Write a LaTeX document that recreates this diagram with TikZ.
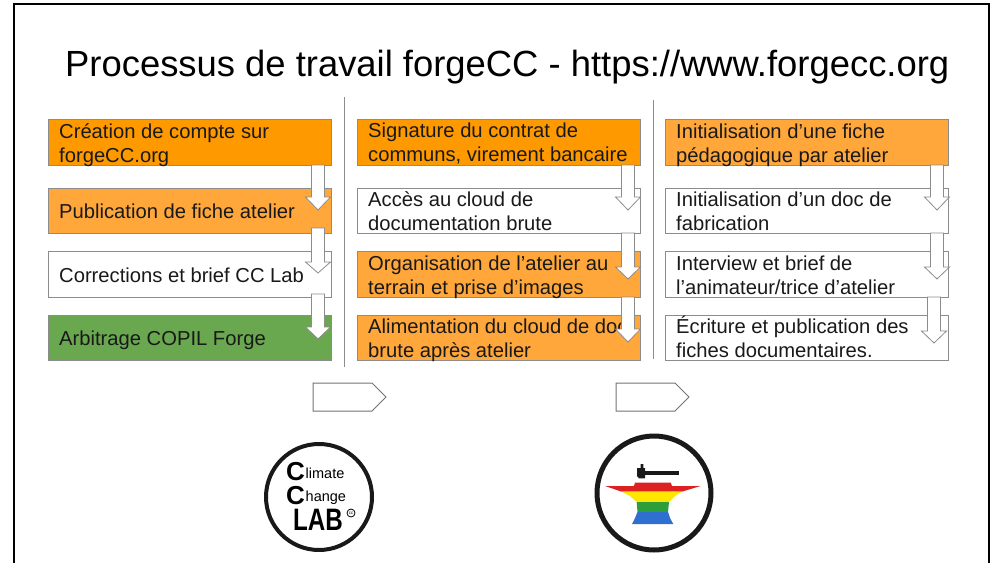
\documentclass[tikz,border=0pt]{standalone}
\usepackage{fontspec}
\setmainfont{Liberation Sans}
\definecolor{orangeA}{HTML}{FF9900}
\definecolor{orangeB}{HTML}{FFA73B}
\definecolor{greenA}{HTML}{6AA84F}
\definecolor{edgeA}{HTML}{8C8C8C}
\definecolor{anvilred}{HTML}{DD2020}
\definecolor{anvilyellow}{HTML}{FFE600}
\definecolor{anvilgreen}{HTML}{2E9E3A}
\definecolor{anvilblue}{HTML}{2F6FD0}
\tikzset{
  stepbox/.style={draw=edgeA, line width=1pt, minimum width=283pt, minimum height=45.5pt,
    inner sep=0pt, outer sep=0pt, anchor=north west},
  steptext/.style={anchor=north west, align=left, inner sep=0pt, text=black!90,
    font=\fontsize{20.2}{24}\selectfont},
  blockarrow/.style={draw=edgeA, line width=.8pt, fill=white},
  nextarrow/.style={draw=black!55, line width=1pt, fill=white},
  logoring/.style={draw=black!90, fill=none},
  logotext/.style={inner sep=0pt, anchor=base west}
}
% one block arrow: x of the tip, y of the top, y of the wings, y of the tip
\newcommand{\downarrowblock}[4]{%
  \draw[blockarrow] (#1-6.5,#2) -- (#1+6.5,#2) -- (#1+6.5,#3) -- (#1+12.5,#3) -- (#1,#4)
    -- (#1-12.5,#3) -- (#1-6.5,#3) -- cycle;}
% one pentagon between the columns
\newcommand{\nextblock}[1]{%
  \draw[nextarrow] (#1,383) -- (#1+59,383) -- (#1+73,397) -- (#1+59,411) -- (#1,411) -- cycle;}
\begin{document}
\begin{tikzpicture}[x=1pt,y=-1pt]
\useasboundingbox (0,0) rectangle (994,563);

% Frame
\draw[line width=2.5pt] (14,563) -- (14,4) -- (989,4) -- (989,563);

% Title
\node[anchor=base west, inner sep=0pt, font=\fontsize{36.4}{40}\selectfont] (title) at (65,76)
  {Processus de travail forgeCC - https://www.forgecc.org};

% Dividers
\draw[edgeA, line width=1pt] (344.5,97) -- (344.5,367);
\draw[edgeA, line width=1pt] (653,100) -- (653,359);

% Column 1
\node[stepbox, fill=orangeA] (boxa) at (48,119.5) {};
\node[stepbox, fill=orangeB] (boxb) at (48,188) {};
\node[stepbox, fill=white] (boxc) at (48,251.5) {};
\node[stepbox, fill=greenA] (boxd) at (48,315) {};
\node[steptext] (texta) at (59,123) {Création de compte sur\\forgeCC.org};
\node[steptext] (textb) at (59,204) {Publication de fiche atelier};
\node[steptext] (textc) at (59,267.5) {Corrections et brief CC Lab};
\node[steptext] (textd) at (59,331) {Arbitrage COPIL Forge};
\downarrowblock{318}{165}{197}{210}
\downarrowblock{318}{228}{262}{273}
\downarrowblock{318}{294}{327}{339}

% Column 2
\node[stepbox, fill=orangeA] (boxe) at (357,119.5) {};
\node[stepbox, fill=white] (boxf) at (357,188) {};
\node[stepbox, fill=orangeB] (boxg) at (357,251.5) {};
\node[stepbox, fill=orangeB] (boxh) at (357,315) {};
\node[steptext] (texte) at (368,123) {Signature du contrat de\\communs, virement bancaire};
\node[steptext] (textf) at (368,191) {Accès au cloud de\\documentation brute};
\node[steptext] (textg) at (368,255.5) {Organisation de l’atelier au\\terrain et prise d’images};
\node[steptext] (texth) at (368,319) {Alimentation du cloud de doc\\brute après atelier};
\downarrowblock{628}{165}{197}{210}
\downarrowblock{628}{233}{267}{279}
\downarrowblock{628}{297}{329}{342}

% Column 3
\node[stepbox, fill=orangeB] (boxi) at (665,119.5) {};
\node[stepbox, fill=white] (boxj) at (665,188) {};
\node[stepbox, fill=white] (boxk) at (665,251.5) {};
\node[stepbox, fill=white] (boxl) at (665,315) {};
\node[steptext] (texti) at (676,124) {Initialisation d’une fiche\\pédagogique par atelier};
\node[steptext] (textj) at (676,192) {Initialisation d’un doc de\\fabrication};
\node[steptext] (textk) at (676,255.5) {Interview et brief de\\l’animateur/trice d’atelier};
\node[steptext] (textl) at (676,316) {Écriture et publication des\\fiches documentaires.};
\downarrowblock{937}{165}{197}{210}
\downarrowblock{937}{233}{267}{279}
\downarrowblock{934}{297}{331}{343}

% Arrows between the logos
\nextblock{313}
\nextblock{616}

% Logo CC Lab
\draw[logoring, line width=4pt] (319,497) circle (53);
\node[logotext, font=\bfseries\fontsize{26}{26}\selectfont] (clima) at (286,480.5) {C};
\node[logotext, font=\fontsize{14.5}{14.5}\selectfont] (climb) at (305.5,478) {limate};
\node[logotext, font=\bfseries\fontsize{26}{26}\selectfont] (chana) at (286,504) {C};
\node[logotext, font=\fontsize{14.5}{14.5}\selectfont] (chanb) at (305.5,501) {hange};
\node[logotext, xscale=.78, font=\fontsize{31}{31}\selectfont\bfseries] (lab) at (293,530) {LAB};
\node[draw, circle, line width=.8pt, inner sep=0pt, minimum size=8pt, font=\fontsize{4.5}{5}\selectfont] (cclogo) at (351,513) {cc};

% Logo forge
\draw[logoring, line width=5pt] (654,493) circle (57);
\fill[black!90] (645,470.7) -- (679,470.7) -- (679,475.3) -- (645,475.3) -- cycle;
\fill[black!90] (637,468) -- (640.5,468) -- (640.7,464) -- (643.3,464) -- (643.5,468) -- (645,468)
  -- (645,478.3) -- (639,478.3) -- (637,476) -- cycle;
\fill[anvilred] (635,482.5) -- (670.7,482.5) -- (672,486) -- (700.7,486) -- (681.7,491.7) -- (621.7,491.7) -- (605,486) -- (634,486) -- cycle;
\fill[anvilyellow] (621.7,491.7) -- (681.7,491.7) -- (675,496) -- (669,502) -- (636.7,502) -- (630,496) -- cycle;
\fill[anvilgreen] (636.7,502) -- (669,502) -- (668,512) -- (637.5,512) -- cycle;
\fill[anvilblue] (637.5,512) -- (668,512) -- (670,518) -- (673.3,524) -- (632,524) -- (635,518) -- cycle;
\end{tikzpicture}
\end{document}
